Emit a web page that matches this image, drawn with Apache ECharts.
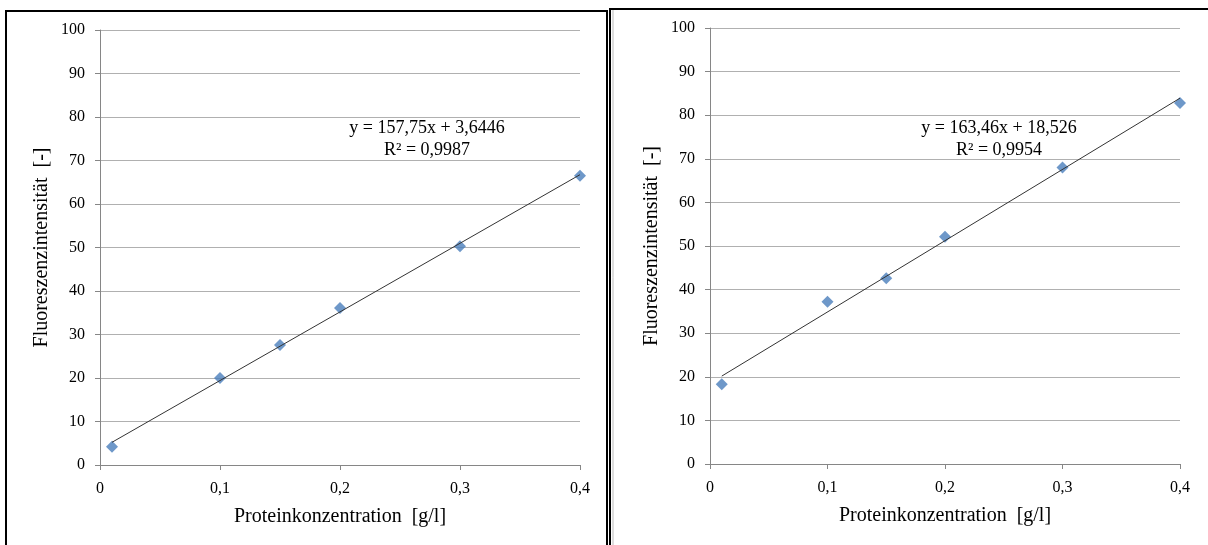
<!DOCTYPE html>
<html><head><meta charset="utf-8">
<script src="https://cdn.jsdelivr.net/npm/echarts@6/dist/echarts.min.js"></script>
<style>html,body{margin:0;padding:0;background:#fff}#c{width:1208px;height:545px}</style>
</head><body><div id="c"></div>
<script>
const concentrations = [0.01, 0.1, 0.15, 0.2, 0.3, 0.4];
const intensityLeft = [4.2, 20.0, 27.6, 36.1, 50.3, 66.5];
const intensityRight = [18.3, 37.2, 42.6, 52.1, 68.0, 82.8];
const trendLeft = {slope: 157.75, intercept: 3.6446, label: ['y = 157,75x + 3,6446', 'R² = 0,9987']};
const trendRight = {slope: 163.46, intercept: 18.526, label: ['y = 163,46x + 18,526', 'R² = 0,9954']};
const xTicks = [0, 0.1, 0.2, 0.3, 0.4];
const yTicks = [0, 10, 20, 30, 40, 50, 60, 70, 80, 90, 100];

const font = '"Liberation Serif", "Times New Roman", serif';
const chart = echarts.init(document.getElementById('c'));
function xAxis(i){
  return {type:'value', gridIndex:i, min:0, max:0.4, interval:0.1,
    name:'Proteinkonzentration  [g/l]', nameLocation:'middle', nameGap:42,
    nameTextStyle:{fontFamily:font, fontSize:20, color:'#000'},
    axisLine:{lineStyle:{color:'#868686'}}, axisTick:{show:true, length:5, lineStyle:{color:'#868686'}},
    splitLine:{show:false},
    axisLabel:{fontFamily:font, fontSize:16, color:'#000', margin:16, formatter:v=>String(+v.toFixed(1)).replace('.',',')}};
}
function yAxis(i){
  return {type:'value', gridIndex:i, min:0, max:100, interval:10,
    name:'Fluoreszenzintensität  [-]', nameLocation:'middle', nameGap:48,
    nameTextStyle:{fontFamily:font, fontSize:20, color:'#000'},
    axisLine:{show:true, lineStyle:{color:'#868686'}}, axisTick:{show:true, length:5, lineStyle:{color:'#868686'}},
    splitLine:{lineStyle:{color:'#b0b0b0'}},
    axisLabel:{fontFamily:font, fontSize:16, color:'#000', margin:15}};
}
function pts(ys){return concentrations.map((x,i)=>[x, ys[i]]);}
function trend(t){
  const x0 = concentrations[0], x1 = concentrations[concentrations.length-1];
  return [[x0, t.slope*x0 + t.intercept], [x1, t.slope*x1 + t.intercept]];
}
const sc = {type:'scatter', symbol:'diamond', symbolSize:12, itemStyle:{color:'#4a7ebb'}, z:2};
const ln = {type:'line', symbol:'none', lineStyle:{color:'#333', width:1}, z:3, silent:true};
chart.setOption({
  animation:false,
  grid:[{left:100, top:30, width:480, height:435}, {left:710, top:28, width:470, height:436}],
  xAxis:[xAxis(0), xAxis(1)],
  yAxis:[yAxis(0), yAxis(1)],
  series:[
    Object.assign({}, sc, {xAxisIndex:0, yAxisIndex:0, data:pts(intensityLeft)}),
    Object.assign({}, ln, {xAxisIndex:0, yAxisIndex:0, data:trend(trendLeft)}),
    Object.assign({}, sc, {xAxisIndex:1, yAxisIndex:1, data:pts(intensityRight)}),
    Object.assign({}, ln, {xAxisIndex:1, yAxisIndex:1, data:trend(trendRight)})
  ],
  graphic:[
    {type:'rect', shape:{x:6, y:11, width:601, height:560}, style:{fill:'none', stroke:'#000', lineWidth:2}, silent:true},
    {type:'rect', shape:{x:610, y:9, width:620, height:560}, style:{fill:'none', stroke:'#000', lineWidth:2}, silent:true},
    {type:'line', shape:{x1:613, y1:10, x2:613, y2:545}, style:{stroke:'#bbb', lineWidth:1}, silent:true},
    {type:'text', x:427, y:117, style:{text:trendLeft.label.join('\n'), align:'center', verticalAlign:'top', font:'18px '+font, fill:'#000', lineHeight:22}},
    {type:'text', x:999, y:117, style:{text:trendRight.label.join('\n'), align:'center', verticalAlign:'top', font:'18px '+font, fill:'#000', lineHeight:22}}
  ]
});
</script></body></html>
